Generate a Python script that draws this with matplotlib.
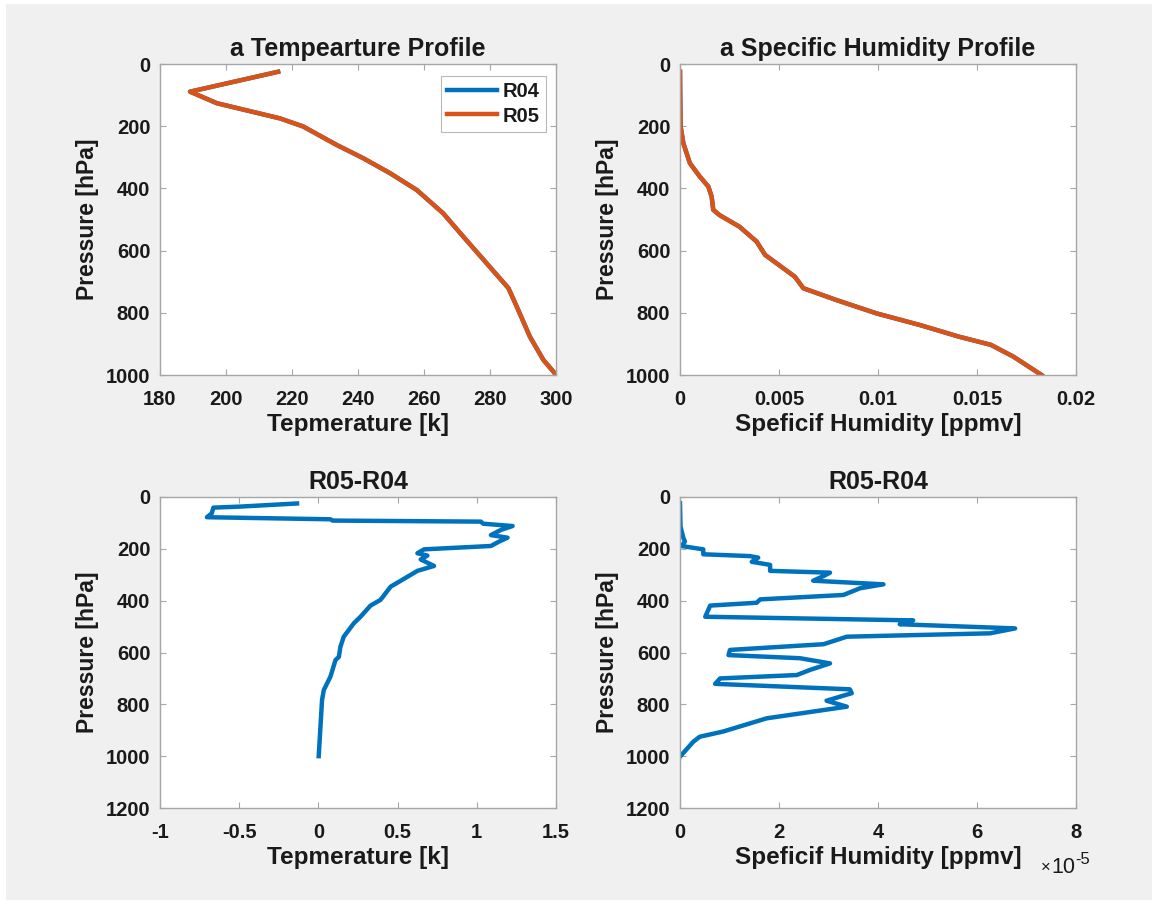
import matplotlib
matplotlib.use("Agg")
import matplotlib.pyplot as plt
from matplotlib.patches import Rectangle

# ---------------- data ----------------
# Temperature profile (R05 drawn on top of R04; the curves overlap at this scale)
p_temp = [25, 89, 126, 175, 201, 260, 303, 351, 405, 480, 555, 641, 721, 780, 877, 952, 989, 1000]
t_r05 = [215.8, 189.1, 197.2, 216.4, 223.4, 233.5, 241.6, 249.7, 257.8, 265.8, 271.9, 279.0, 285.6, 288.1, 292.1, 296.2, 299.2, 300.0]
t_r04 = [215.8, 189.1, 197.2, 216.4, 223.4, 233.5, 241.6, 249.7, 257.8, 265.8, 271.9, 279.0, 285.6, 288.1, 292.1, 296.2, 299.2, 300.0]

# Specific humidity profile
p_hum = [25, 100, 201, 255, 319, 362, 394, 427, 469, 486, 523, 571, 614, 641, 684, 721, 759, 802, 839, 877, 903, 941, 1000]
q_r05 = [0.0, 0.00001, 0.00003, 0.00017, 0.0005, 0.001, 0.00143, 0.0016, 0.00168, 0.002, 0.003, 0.00387,
         0.0043, 0.00488, 0.0058, 0.00623, 0.0079, 0.00993, 0.0121, 0.0141, 0.0157, 0.01684, 0.01826]
q_r04 = [0.0, 0.00001, 0.00003, 0.00017, 0.0005, 0.001, 0.00143, 0.0016, 0.00168, 0.002, 0.003, 0.00387,
         0.0043, 0.00488, 0.0058, 0.00623, 0.0079, 0.00993, 0.0121, 0.0141, 0.0157, 0.01684, 0.01826]

# Temperature difference R05-R04
p_dt = [25, 37, 41, 63, 78, 86, 91, 95, 103, 112, 127, 147, 157, 172, 189, 202, 217, 226, 241, 266, 285,
        331, 346, 397, 419, 462, 487, 539, 578, 617, 629, 693, 745, 783, 886, 1000]
dt = [-0.135, -0.494, -0.663, -0.673, -0.704, 0.076, 0.09, 1.025, 1.04, 1.226, 1.152, 1.089, 1.194, 1.141,
      1.089, 0.667, 0.625, 0.688, 0.646, 0.73, 0.625, 0.498, 0.456, 0.392, 0.329, 0.266, 0.224, 0.16, 0.139,
      0.129, 0.108, 0.076, 0.034, 0.023, 0.013, 0.002]

# Specific humidity difference R05-R04
p_dq = [24, 114, 159, 172, 189, 202, 221, 228, 234, 250, 262, 285, 292, 305, 323, 337, 352, 378, 395, 408,
        419, 462, 475, 476, 491, 507, 526, 539, 568, 590, 610, 622, 642, 667, 687, 700, 721, 742, 757, 786,
        809, 854, 905, 925, 944, 1002]
dq = [0.0, 0.01e-5, 0.07e-5, 0.1e-5, 0.03e-5, 0.47e-5, 0.47e-5, 1.41e-5, 1.58e-5, 1.45e-5, 1.82e-5, 1.82e-5,
      3.03e-5, 2.9e-5, 2.69e-5, 4.11e-5, 3.64e-5, 3.3e-5, 1.62e-5, 1.55e-5, 0.61e-5, 0.51e-5, 4.38e-5,
      4.71e-5, 4.44e-5, 6.77e-5, 6.26e-5, 3.37e-5, 2.9e-5, 1.01e-5, 0.98e-5, 2.42e-5, 3.03e-5, 2.63e-5,
      2.36e-5, 0.81e-5, 0.71e-5, 3.43e-5, 3.47e-5, 2.96e-5, 3.37e-5, 1.75e-5, 0.87e-5, 0.4e-5, 0.27e-5, 0.0]

series_names = ["R04", "R05"]
titles = ["a Tempearture Profile", "a Specific Humidity Profile", "R05-R04", "R05-R04"]
xlabels = ["Tepmerature [k]", "Speficif Humidity [ppmv]", "Tepmerature [k]", "Speficif Humidity [ppmv]"]
ylabel = "Pressure [hPa]"

# ---------------- style ----------------
BLUE = "#0072BD"
ORANGE = "#D95319"
BG = "#f0f0f0"
TXT = "#1a1a1a"
plt.rcParams["font.family"] = ["Liberation Sans", "DejaVu Sans"]
plt.rcParams["font.weight"] = "bold"

W, H = 1152, 900
fig = plt.figure(figsize=(W / 100, H / 100), dpi=100, facecolor="white")
fig.patches.append(Rectangle((6 / W, 0), 1 - 6 / W, 1 - 4 / H, transform=fig.transFigure,
                             facecolor=BG, edgecolor="none", zorder=-10))

def make_ax(left_px, top_px):
    ax = fig.add_axes([left_px / W, 1 - (top_px + 311) / H, 396 / W, 311 / H])
    ax.set_facecolor("white")
    for s in ax.spines.values():
        s.set_color("#a6a6a6")
        s.set_linewidth(1.0)
    ax.tick_params(direction="in", length=4, width=0.8, color="#a6a6a6",
                   top=True, right=True, labelsize=14.5, labelcolor=TXT)
    ax.tick_params(axis="x", pad=11)
    ax.tick_params(axis="y", pad=7)
    return ax

def style_text(ax, title, xlabel):
    ax.set_title(title, fontsize=18, fontweight="bold", pad=6, color=TXT)
    ax.set_xlabel(xlabel, fontsize=17.5, fontweight="bold", labelpad=3, color=TXT)
    ax.set_ylabel(ylabel, fontsize=16.5, fontweight="bold", labelpad=5, color=TXT)

LW = 3.2

# Top-left: temperature profile
ax1 = make_ax(160, 64)
ax1.plot(t_r04, p_temp, color=BLUE, lw=LW, label=series_names[0], solid_joinstyle="round")
ax1.plot(t_r05, p_temp, color=ORANGE, lw=LW, label=series_names[1], solid_joinstyle="round")
ax1.set_xlim(180, 300)
ax1.set_ylim(1000, 0)
ax1.set_xticks(range(180, 301, 20))
ax1.set_yticks(range(0, 1001, 200))
style_text(ax1, titles[0], xlabels[0])
leg = ax1.legend(loc="upper right", bbox_to_anchor=(0.975, 0.96), fontsize=14.5, frameon=True,
                 fancybox=False, handlelength=2.5, handletextpad=0.3, borderpad=0.3,
                 labelspacing=0.25, borderaxespad=0)
leg.get_frame().set_edgecolor("#a6a6a6")
leg.get_frame().set_linewidth(0.8)
for t in leg.get_texts():
    t.set_fontweight("bold")
    t.set_color(TXT)

# Top-right: humidity profile
ax2 = make_ax(680, 64)
ax2.plot(q_r04, p_hum, color=BLUE, lw=LW, solid_joinstyle="round")
ax2.plot(q_r05, p_hum, color=ORANGE, lw=LW, solid_joinstyle="round")
ax2.set_xlim(0, 0.02)
ax2.set_ylim(1000, 0)
ax2.set_xticks([0, 0.005, 0.01, 0.015, 0.02])
ax2.set_xticklabels(["0", "0.005", "0.01", "0.015", "0.02"])
ax2.set_yticks(range(0, 1001, 200))
style_text(ax2, titles[1], xlabels[1])

# Bottom-left: temperature difference
ax3 = make_ax(160, 497)
ax3.plot(dt, p_dt, color=BLUE, lw=LW, solid_joinstyle="round")
ax3.set_xlim(-1, 1.5)
ax3.set_ylim(1200, 0)
ax3.set_xticks([-1, -0.5, 0, 0.5, 1, 1.5])
ax3.set_xticklabels(["-1", "-0.5", "0", "0.5", "1", "1.5"])
ax3.set_yticks(range(0, 1201, 200))
style_text(ax3, titles[2], xlabels[2])

# Bottom-right: humidity difference
ax4 = make_ax(680, 497)
ax4.plot(dq, p_dq, color=BLUE, lw=LW, solid_joinstyle="round")
ax4.set_xlim(0, 8e-5)
ax4.set_ylim(1200, 0)
ax4.set_xticks([0, 2e-5, 4e-5, 6e-5, 8e-5])
ax4.set_xticklabels(["0", "2", "4", "6", "8"])
ax4.set_yticks(range(0, 1201, 200))
style_text(ax4, titles[3], xlabels[3])
# MATLAB-style exponent label: "×10" with raised "-5"
ax4.text(0.912, -0.19, "\u00d7", transform=ax4.transAxes, fontsize=12, fontweight="normal",
         ha="left", va="center", color=TXT)
ax4.text(0.937, -0.19, "10", transform=ax4.transAxes, fontsize=15.5, fontweight="normal",
         ha="left", va="center", color=TXT)
ax4.text(0.998, -0.165, "-5", transform=ax4.transAxes, fontsize=12, fontweight="normal",
         ha="left", va="center", color=TXT)

for ax in (ax1, ax2, ax3, ax4):
    for lab in ax.get_xticklabels() + ax.get_yticklabels():
        lab.set_fontweight("bold")

fig.savefig("out.png", dpi=100, facecolor=fig.get_facecolor())
